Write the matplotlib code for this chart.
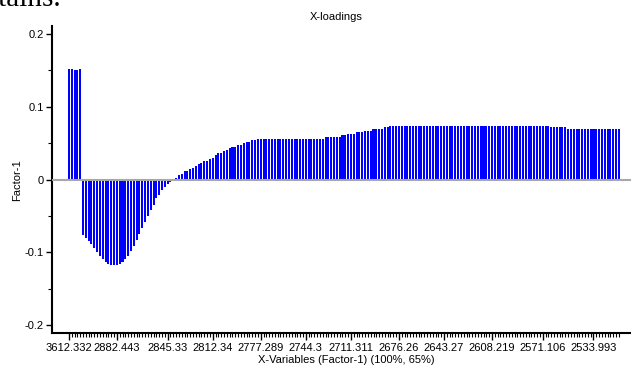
import matplotlib.pyplot as plt
from matplotlib.ticker import MultipleLocator, FixedLocator

plt.rcParams['font.family'] = ['Liberation Sans', 'DejaVu Sans']
plt.rcParams['axes.unicode_minus'] = False

# loadings, one per x-variable
loadings = [
    0.152, 0.152, 0.150, 0.151, 0.152, -0.076, -0.080, -0.084, -0.088, -0.094,
    -0.099, -0.105, -0.109, -0.113, -0.116, -0.117, -0.118, -0.117, -0.116, -0.113,
    -0.109, -0.105, -0.098, -0.091, -0.083, -0.075, -0.066, -0.058, -0.050, -0.042,
    -0.035, -0.026, -0.021, -0.015, -0.010, -0.006, -0.003, -0.001, 0.002, 0.006,
    0.008, 0.011, 0.012, 0.014, 0.016, 0.018, 0.021, 0.022, 0.025, 0.026,
    0.028, 0.030, 0.033, 0.036, 0.037, 0.039, 0.040, 0.043, 0.044, 0.045,
    0.047, 0.048, 0.050, 0.051, 0.052, 0.054, 0.054, 0.055, 0.055, 0.055,
    0.056, 0.056, 0.056, 0.056, 0.056, 0.056, 0.056, 0.056, 0.056, 0.056,
    0.056, 0.056, 0.056, 0.056, 0.056, 0.056, 0.056, 0.056, 0.056, 0.056,
    0.056, 0.058, 0.058, 0.058, 0.058, 0.059, 0.059, 0.0605, 0.0605, 0.062,
    0.062, 0.063, 0.065, 0.065, 0.065, 0.066, 0.067, 0.067, 0.069, 0.069,
    0.070, 0.070, 0.0715, 0.0715, 0.073, 0.073, 0.073, 0.073, 0.073, 0.074,
    0.074, 0.074, 0.074, 0.074, 0.074, 0.074, 0.074, 0.074, 0.074, 0.074,
    0.074, 0.074, 0.074, 0.074, 0.074, 0.074, 0.074, 0.074, 0.074, 0.074,
    0.074, 0.074, 0.074, 0.074, 0.074, 0.074, 0.074, 0.074, 0.074, 0.074,
    0.074, 0.074, 0.074, 0.074, 0.074, 0.074, 0.074, 0.074, 0.074, 0.074,
    0.074, 0.074, 0.074, 0.074, 0.074, 0.073, 0.073, 0.073, 0.073, 0.073,
    0.073, 0.0715, 0.0715, 0.0715, 0.0715, 0.0715, 0.0715, 0.070, 0.070, 0.070,
    0.070, 0.070, 0.070, 0.070, 0.070, 0.070, 0.070, 0.070, 0.070, 0.070,
    0.070, 0.070, 0.070, 0.070, 0.070, 0.069,
]

tick_labels = ['3612.332', '2882.443', '2845.33', '2812.34', '2777.289', '2744.3',
               '2711.311', '2676.26', '2643.27', '2608.219', '2571.106', '2533.993']
tick_index = [0, 17, 35, 51, 68, 84, 100, 117, 133, 150, 168, 186]


def plot(values, output):
    W, H = 631, 367
    fig = plt.figure(figsize=(W / 100, H / 100), dpi=100)
    ax = fig.add_axes([52 / W, 1 - 333 / H, (W - 52) / W, (333 - 26) / H])

    x = list(range(len(values)))
    ax.bar(x, values, width=0.72, color='#0000ff', zorder=2)
    ax.axhline(0, color='#a8a8a8', lw=1.5, zorder=3)

    ax.set_xlim(-6, 199.3)
    ax.set_ylim(-0.211, 0.211)

    for s in ['top', 'right']:
        ax.spines[s].set_visible(False)
    for s in ['left', 'bottom']:
        ax.spines[s].set_linewidth(1.5)

    ax.set_yticks([-0.2, -0.1, 0, 0.1, 0.2])
    ax.set_yticklabels(['-0.2', '-0.1', '0', '0.1', '0.2'])
    ax.yaxis.set_minor_locator(MultipleLocator(0.05))
    ax.set_xticks(tick_index)
    ax.set_xticklabels(tick_labels)
    ax.xaxis.set_minor_locator(FixedLocator(x))

    ax.tick_params(axis='both', which='major', labelsize=8, length=4, width=1, pad=2)
    ax.tick_params(axis='x', which='major', length=5)
    ax.tick_params(axis='both', which='minor', length=3, width=0.8)

    fig.text(336 / W, 1 - 17 / H, 'X-loadings', fontsize=8, ha='center', va='center')
    fig.text(17 / W, 1 - 180 / H, 'Factor-1', fontsize=8, rotation=90,
             ha='center', va='center')
    fig.text(346 / W, 1 - 360 / H, 'X-Variables (Factor-1) (100%, 65%)', fontsize=8,
             ha='center', va='center')
    # leftover of the page text above the chart
    fig.text(62 / W, 1 - 6 / H, 'contains.', family='Liberation Serif', fontsize=21,
             ha='right', va='baseline')

    fig.savefig(output, dpi=100)


def main():
    plot(loadings, 'out.png')


if __name__ == '__main__':
    main()
